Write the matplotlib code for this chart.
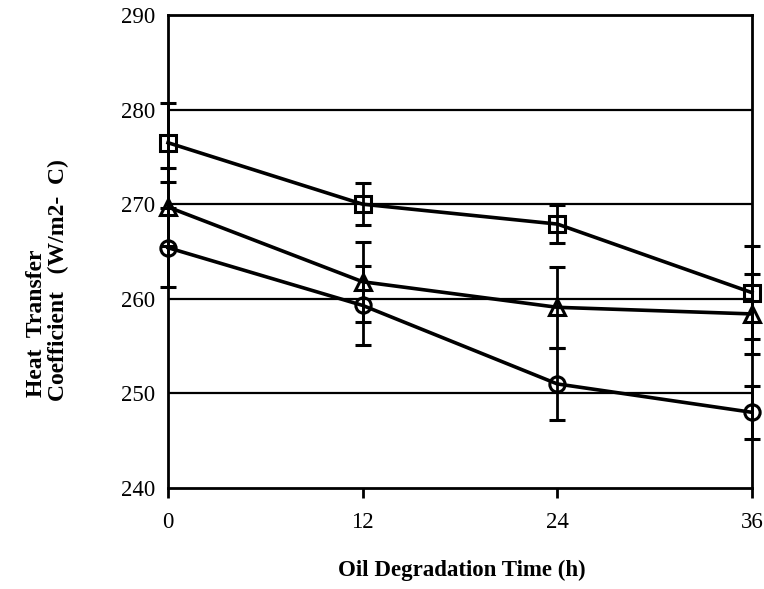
import matplotlib
matplotlib.use("Agg")
import matplotlib.pyplot as plt

# Oil degradation time (h)
hours = [0, 12, 24, 36]

# Heat transfer coefficient (W/m2-C) per series, with error bar half-widths
square_vals = [276.5, 270.0, 267.9, 260.65]
square_err = [4.2, 2.2, 2.0, 4.95]

triangle_vals = [269.7, 261.8, 259.1, 258.4]
triangle_err = [4.1, 4.2, 4.3, 4.2]

circle_vals = [265.4, 259.3, 251.0, 248.0]
circle_err = [4.2, 4.2, 3.8, 2.8]

x_ticks = [0, 12, 24, 36]
y_ticks = [240, 250, 260, 270, 280, 290]
grid_levels = [250, 260, 270, 280]

plt.rcParams["font.family"] = ["Liberation Serif", "DejaVu Serif"]

fig = plt.figure(figsize=(7.64, 5.89), dpi=100)
ax = fig.add_axes([168 / 764, 1 - 488 / 589, (752 - 168) / 764, (488 - 15) / 589])

for lvl in grid_levels:
    ax.axhline(lvl, color="black", lw=1.6, zorder=1)

series = [
    (square_vals, square_err, "s"),
    (triangle_vals, triangle_err, "^"),
    (circle_vals, circle_err, "o"),
]
for vals, errs, mk in series:
    ax.errorbar(hours, vals, yerr=errs, color="black", lw=2.6,
                marker=mk, markersize=11, markerfacecolor="none",
                markeredgecolor="black", markeredgewidth=2.2,
                elinewidth=2.0, capsize=6, capthick=2.2,
                clip_on=False, zorder=3)

ax.set_xlim(0, 36)
ax.set_ylim(240, 290)
ax.set_xticks(x_ticks)
ax.set_xticklabels([str(t) for t in x_ticks])
ax.set_yticks(y_ticks)
ax.set_yticklabels([str(t) for t in y_ticks])

ax.tick_params(axis="x", direction="out", length=7, width=2, pad=10, labelsize=16.5)
ax.tick_params(axis="y", length=0, pad=9, labelsize=16.5)
for sp in ax.spines.values():
    sp.set_linewidth(2)
    sp.set_color("black")

fig.text(37 / 764, 1 - 397 / 589, "Heat  Transfer", rotation=90,
         ha="center", va="bottom", fontsize=17, fontweight="bold")
fig.text(58 / 764, 1 - 401 / 589, "Coefficient   (W/m2-  C)", rotation=90,
         ha="center", va="bottom", fontsize=17, fontweight="bold")
fig.text(462 / 764, 1 - 570 / 589, "Oil Degradation Time (h)",
         ha="center", va="center", fontsize=16.5, fontweight="bold")

fig.savefig("out.png", dpi=100)
